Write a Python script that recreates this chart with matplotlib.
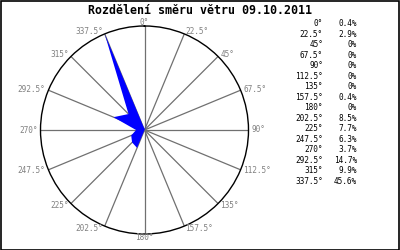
"""
Rozdělení směru větru - větrná růžice 09.10.2011
"""
import numpy as np
import matplotlib
matplotlib.use("Agg")
import matplotlib.pyplot as plt
from matplotlib.patches import Rectangle

# ── Data ───────────────────────────────────────────────────────
DIRECTIONS = [0, 22.5, 45, 67.5, 90, 112.5, 135, 157.5,
              180, 202.5, 225, 247.5, 270, 292.5, 315, 337.5]
DIR_LABELS = ["0°", "22.5°", "45°", "67.5°", "90°", "112.5°", "135°", "157.5°",
              "180°", "202.5°", "225°", "247.5°", "270°", "292.5°", "315°", "337.5°"]
PERCENT = [0.4, 2.9, 0, 0, 0, 0, 0, 0.4,
           0, 8.5, 7.7, 6.3, 3.7, 14.7, 9.9, 45.6]
PCT_LABELS = ["0.4%", "2.9%", "0%", "0%", "0%", "0%", "0%", "0.4%",
              "0%", "8.5%", "7.7%", "6.3%", "3.7%", "14.7%", "9.9%", "45.6%"]
TITLE = "Rozdělení směru větru 09.10.2011"

MONO = "DejaVu Sans Mono"
W, H = 400, 250


def fx(px):
    return px / W


def fy(py):
    return 1 - py / H


fig = plt.figure(figsize=(4, 2.5), dpi=100)
fig.patch.set_facecolor("white")

# polar axes: center (144.5, 130), radius 104 px
cx, cy, rad = 144.5, 130, 104
ax = fig.add_axes([fx(cx - rad), fy(cy + rad), 2 * rad / W, 2 * rad / H],
                  projection="polar")
ax.set_theta_zero_location("N")
ax.set_theta_direction(-1)
ax.set_ylim(0, max(PERCENT))
ax.grid(False)
ax.set_xticks([])
ax.set_yticks([])
ax.spines["polar"].set_color("black")
ax.spines["polar"].set_linewidth(1.0)

theta = np.deg2rad(DIRECTIONS)
rmax = max(PERCENT)

# paprsky
for t in theta:
    ax.plot([t, t], [0, rmax], color="#707070", lw=0.9, zorder=1)

# polygon
ax.fill(np.append(theta, theta[0]), np.append(PERCENT, PERCENT[0]),
        color="#0000ff", lw=0, zorder=3)

# popisky směrů
for t, lab in zip(theta, DIR_LABELS):
    s, c = np.sin(t), np.cos(t)
    ha = "center" if abs(s) < 0.05 else ("left" if s > 0 else "right")
    ax.annotate(lab, xy=(t, rmax), xytext=(2.2 * s, 2.2 * c),
                textcoords="offset points", ha=ha, va="center",
                fontsize=5.6, family=MONO, color="#808080",
                annotation_clip=False)

# titulek
fig.text(0.5, fy(13.5), TITLE, ha="center", va="baseline",
         fontsize=8.4, family=MONO, fontweight="bold", color="black")

# tabulka vpravo
y0, dy = 24, 10.47
for i, (lab, pct) in enumerate(zip(DIR_LABELS, PCT_LABELS)):
    y = fy(y0 + i * dy)
    fig.text(fx(323), y, lab, ha="right", va="center",
             fontsize=5.6, family=MONO, color="black")
    fig.text(fx(357), y, pct, ha="right", va="center",
             fontsize=5.6, family=MONO, color="black")

# rámeček
fig.add_artist(Rectangle((0.5 / W, 0.5 / H), 1 - 1.5 / W, 1 - 1.5 / H,
                         transform=fig.transFigure, fill=False,
                         edgecolor="black", lw=1.2))

fig.savefig("out.png", dpi=100)
